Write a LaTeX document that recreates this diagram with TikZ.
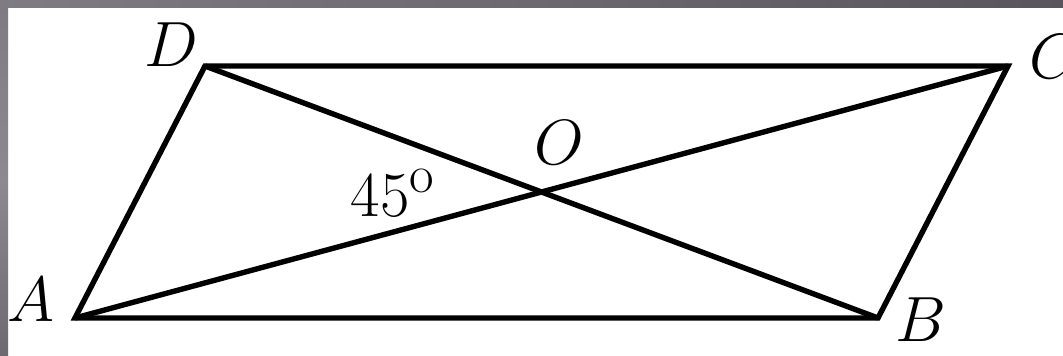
\documentclass[tikz,border=0pt]{standalone}
\usetikzlibrary{calc}
\definecolor{frameA}{HTML}{7E7C82}
\definecolor{frameB}{HTML}{58565C}
\definecolor{frameC}{HTML}{8C8A90}
\definecolor{frameD}{HTML}{6C6A70}
\newcommand{\biglbl}[1]{\scalebox{2.57}{\Huge #1}}
\begin{document}
\begin{tikzpicture}[x=1pt,y=-1pt,
  edge/.style={line width=5.4pt, line join=miter, line cap=butt},
  lbl/.style={inner sep=0pt}]
\useasboundingbox (0,0) rectangle (1063,356);
\fill[white] (0,0) rectangle (1063,356);
% frame bands
\shade[left color=frameA, right color=frameB] (0,0) rectangle (1063,7);
\shade[top color=frameA, bottom color=frameD, middle color=frameC] (0,7) rectangle (8,356);
% vertices
\coordinate (A) at (75,318);
\coordinate (B) at (878,318);
\coordinate (C) at (1008,66);
\coordinate (D) at (205,66);
\coordinate (O) at (541.5,192);
\draw[edge] (A) -- (B) -- (C) -- (D) -- cycle;
\draw[edge] (A) -- (C);
\draw[edge] (D) -- (B);
% labels
\node[lbl] (lA) at (31,300) {\biglbl{$A$}};
\node[lbl] (lB) at (921,320) {\biglbl{$B$}};
\node[lbl] (lC) at (1054,57) {\biglbl{$C$}};
\node[lbl] (lD) at (171,45) {\biglbl{$D$}};
\node[lbl] (lO) at (559,143) {\biglbl{$O$}};
\node[lbl] (l45) at (393,193) {\biglbl{$45^{\mathrm{o}}$}};
\end{tikzpicture}
\end{document}
